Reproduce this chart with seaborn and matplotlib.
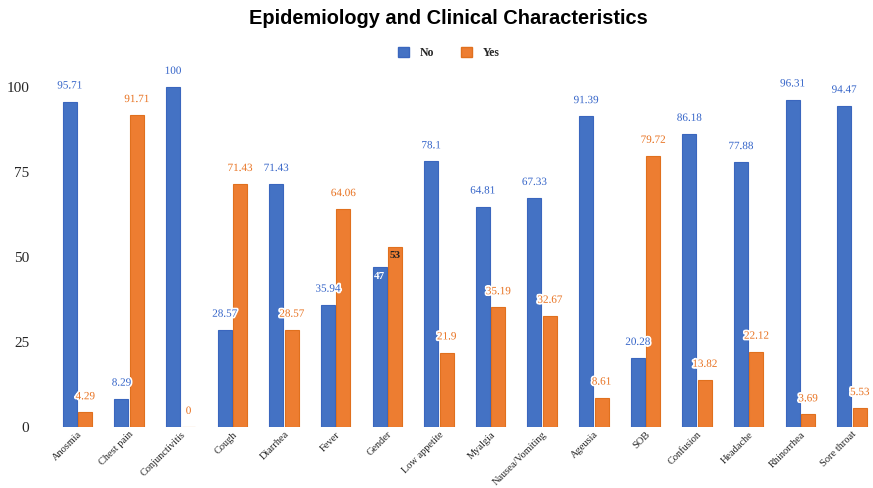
import matplotlib
matplotlib.use("Agg")
import matplotlib.pyplot as plt
import matplotlib.patheffects as pe
import seaborn as sns
import pandas as pd
from matplotlib.patches import Patch

categories = ["Anosmia", "Chest pain", "Conjunctivitis", "Cough", "Diarrhea", "Fever",
              "Gender", "Low appetite", "Myalgia", "Nausea/Vomiting", "Ageusia", "SOB",
              "Confusion", "Headache", "Rhinorrhea", "Sore throat"]
no_vals = [95.71, 8.29, 100, 28.57, 71.43, 35.94, 47, 78.1, 64.81, 67.33, 91.39, 20.28,
           86.18, 77.88, 96.31, 94.47]
yes_vals = [4.29, 91.71, 0, 71.43, 28.57, 64.06, 53, 21.9, 35.19, 32.67, 8.61, 79.72,
            13.82, 22.12, 3.69, 5.53]
no_labels = ["95.71", "8.29", "100", "28.57", "71.43", "35.94", "47", "78.1", "64.81",
             "67.33", "91.39", "20.28", "86.18", "77.88", "96.31", "94.47"]
yes_labels = ["4.29", "91.71", "0", "71.43", "28.57", "64.06", "53", "21.9", "35.19",
              "32.67", "8.61", "79.72", "13.82", "22.12", "3.69", "5.53"]
y_ticks = [0, 25, 50, 75, 100]

BLUE = "#4472C4"
ORANGE = "#ED7D31"
BLUE_TXT = "#3363C8"
ORANGE_TXT = "#E8711F"

df = pd.DataFrame({
    "category": categories * 2,
    "value": no_vals + yes_vals,
    "group": ["No"] * len(categories) + ["Yes"] * len(categories),
})

sns.set_style("white")
fig = plt.figure(figsize=(8.73, 4.88), dpi=100)
W, H = 873, 488
left_px, right_px = 51.7, 872.6
bot_px, top_px = 427, 70
ax = fig.add_axes([left_px / W, (H - bot_px) / H, (right_px - left_px) / W, (bot_px - top_px) / H])

sns.barplot(data=df, x="category", y="value", hue="group", palette=[BLUE, ORANGE],
            width=0.6, gap=0.1, ax=ax, legend=False, saturation=1)

for cont, color in zip(ax.containers, ["#3A66BE", "#E0701E"]):
    for p in cont:
        p.set_edgecolor(color)
        p.set_linewidth(0.8)

ax.set_xlim(-0.5, 15.4)
ax.set_ylim(0, 105)
ax.set_yticks(y_ticks)
ax.set_yticklabels([str(t) for t in y_ticks], fontfamily="Liberation Serif", fontsize=11)
ax.tick_params(axis="y", length=0, pad=16)
ax.tick_params(axis="x", length=0, pad=2)
ax.set_xticks(range(len(categories)))
ax.set_xticklabels(categories, rotation=45, ha="right", rotation_mode="anchor",
                   fontfamily="Liberation Serif", fontsize=7.5)
ax.set_xlabel("")
ax.set_ylabel("")
for s in ax.spines.values():
    s.set_visible(False)

halo = [pe.withStroke(linewidth=2.5, foreground="white")]
for cont, labels, tcol in zip(ax.containers, [no_labels, yes_labels], [BLUE_TXT, ORANGE_TXT]):
    for p, lab in zip(cont, labels):
        cx = p.get_x() + p.get_width() / 2
        h = p.get_height()
        if lab in ("47", "53"):
            col = "white" if lab == "47" else "#222222"
            ax.text(cx, h - 2.6, lab, ha="center", va="center", fontsize=8,
                    fontfamily="Liberation Serif", color=col, fontweight="bold", clip_on=False)
        else:
            ax.text(cx, h + 4.6, lab, ha="center", va="center", fontsize=8,
                    fontfamily="Liberation Serif", color=tcol, path_effects=halo, clip_on=False)

fig.text(0.514, 1 - 18 / H, "Epidemiology and Clinical Characteristics", ha="center", va="center",
         fontsize=14.4, fontweight="bold", fontfamily="Liberation Sans", color="black")

handles = [Patch(facecolor=BLUE, edgecolor="#3A66BE"), Patch(facecolor=ORANGE, edgecolor="#E0701E")]
leg = fig.legend(handles, ["No", "Yes"], loc="center", bbox_to_anchor=(0.514, 1 - 53 / H),
                 ncol=2, frameon=False, handlelength=1.0, handleheight=1.0, columnspacing=2.2,
                 handletextpad=0.9, prop={"family": "Liberation Serif", "weight": "bold", "size": 8.5})

fig.savefig("out.png", dpi=100)
